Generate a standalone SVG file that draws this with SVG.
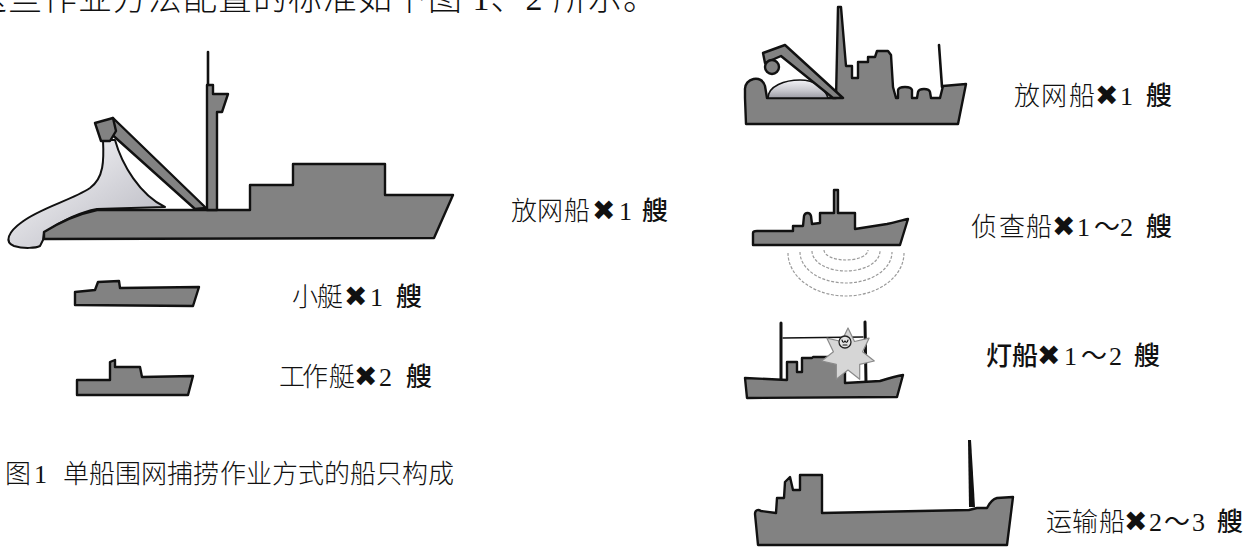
<svg xmlns="http://www.w3.org/2000/svg" width="1260" height="547" viewBox="0 0 1260 547">
  <defs>
    <linearGradient id="netFill" x1="0" y1="0" x2="1" y2="1">
      <stop offset="0" stop-color="#ffffff"/>
      <stop offset="0.55" stop-color="#d4d4da"/>
      <stop offset="1" stop-color="#b4b4bc"/>
    </linearGradient>
    <linearGradient id="domeFill" x1="0" y1="0" x2="0" y2="1">
      <stop offset="0" stop-color="#f2f2f6"/>
      <stop offset="0.6" stop-color="#c6c6cc"/>
      <stop offset="1" stop-color="#9c9ca4"/>
    </linearGradient>
    <style>
      .hull { fill: #828282; stroke: #111; stroke-width: 2.4; stroke-linejoin: round; }
      .thin { fill: none; stroke: #111; stroke-linecap: round; }
      .net { fill: url(#netFill); stroke: #111; stroke-width: 2; stroke-linejoin: round; }
      .sonar { fill: none; stroke: #9a9a9a; stroke-width: 1.2; stroke-dasharray: 3 1.6; }
      .lbl { font-family: "Liberation Serif", "Noto Sans CJK SC", "DejaVu Sans", serif; font-size: 26px; fill: #111; }
      .song { font-weight: 300; }
      .mk { font-family: "DejaVu Sans", sans-serif; font-size: 28px; }
      .gothic { font-family: "Noto Sans CJK SC", sans-serif; font-weight: 500; }
    </style>
  </defs>
  <rect width="1260" height="547" fill="#ffffff"/>

  <!-- running text above the figures, clipped by the top edge -->
  <text class="lbl song" x="-27" y="10" letter-spacing="1" style="font-size:34px">这些作业方法配置的标准如下图 1、2 所示。</text>

  <!-- Fig. 1: single-vessel purse seine fleet -->
  <g id="seiner-large">
    <path class="net" d="M 103,140 C 104,160 104,178 90,188 C 72,200 40,208 22,222 C 8,232 4,242 14,246 C 24,249 36,248 40,246 L 43,240 L 44,233 C 60,222 80,212 97,209 L 165,207 C 140,195 122,165 115,140 Z"/>
    <path class="hull" d="M 44,239 L 44,232 C 60,222 78,214 97,210 L 250,210 L 250,185 L 293,185 L 293,164 L 385,164 L 385,195 L 453,195 L 434,238 Z"/>
    <path class="hull" d="M 113,118 L 206,208 L 195,209 L 108,131 Z"/>
    <path class="hull" d="M 95,123 L 113,118 L 116,131 L 110,141 L 101,141 Z"/>
    <path class="thin" stroke-width="2.6" d="M 208,52 L 208,90"/>
    <path class="hull" d="M 207,85 L 213,85 L 213,94 L 228,94 L 222,112 L 217,112 L 217,210 L 207,210 Z"/>
  </g>
  <text class="lbl" y="220"><tspan class="song" x="511 537 564">放网船</tspan><tspan class="mk" x="592">✖</tspan><tspan x="619 632">1 </tspan><tspan class="gothic" x="642">艘</tspan></text>

  <g id="skiff">
    <path class="hull" d="M 75,305 L 75,292 L 95,290 L 98,282 L 119,281 L 120,288 L 199,287 L 193,306 Z"/>
  </g>
  <text class="lbl" y="306"><tspan class="song" x="292 317">小艇</tspan><tspan class="mk" x="344">✖</tspan><tspan x="370 383">1 </tspan><tspan class="gothic" x="396">艘</tspan></text>

  <g id="work-boat">
    <path class="hull" d="M 77,395 L 77,380 L 110,380 L 110,362 L 115,360 L 115,367 L 140,367 L 142,377 L 193,376 L 188,395 Z"/>
  </g>
  <text class="lbl" y="386"><tspan class="song" x="279 302 329">工作艇</tspan><tspan class="mk" x="354">✖</tspan><tspan x="379 392">2 </tspan><tspan class="gothic" x="406">艘</tspan></text>

  <text class="lbl song" y="483" x="5 28 34 46 63 89 115 141 167 193 220 246 272 298 324 350 376 402 428">图 1　单船围网捕捞作业方式的船只构成</text>

  <!-- Fig. 2: purse seine fleet with support vessels -->
  <g id="seiner-small">
    <path class="hull" d="M 746,124 L 745,98 L 745,90 C 744,78 762,74 765,86 L 767,98 L 836,98 L 838,7 L 841,7 L 846,66 L 852,66 L 852,78 L 858,78 L 858,62 L 868,62 L 868,57 L 875,57 L 877,51 L 888,51 L 891,55 L 893,87 L 896,98 L 898,98 L 898,90 C 899,86 911,86 912,90 L 912,98 L 917,98 L 918,92 C 919,88 929,88 930,92 L 931,98 L 940,98 L 943,86 L 966,84 L 958,124 Z"/>
    <path d="M 768,98 C 768,86 785,80 800,80 C 815,80 825,88 828,98 Z" fill="url(#domeFill)" stroke="#111" stroke-width="1.6"/>
    <path class="hull" d="M 763,53 L 785,45 L 843,98 L 833,98 L 781,56 L 765,63 Z"/>
    <circle class="hull" cx="772" cy="67" r="7"/>
    <path class="thin" stroke-width="2.6" d="M 939,45 L 942,87"/>
  </g>
  <text class="lbl" y="105"><tspan class="song" x="1014 1041 1069">放网船</tspan><tspan class="mk" x="1095">✖</tspan><tspan x="1120 1133">1 </tspan><tspan class="gothic" x="1146">艘</tspan></text>

  <g id="scout-vessel">
    <path class="sonar" d="M 824,250 A 22 10 0 0 0 868,250"/>
    <path class="sonar" d="M 812,251 A 34 20 0 0 0 880,251"/>
    <path class="sonar" d="M 800,252 A 46 31 0 0 0 892,252"/>
    <path class="sonar" d="M 788,253 A 58 43 0 0 0 904,253"/>
    <path class="hull" d="M 753,245 L 753,233 C 753,231 755,231 757,231 L 793,231 L 793,226 L 803,226 L 804,216 C 805,212 810,212 811,216 L 812,224 L 820,223 L 820,213 L 834,213 L 834,190 L 838,190 L 838,213 L 855,213 L 855,229 L 887,224 C 896,222 903,220 908,219 L 900,245 Z"/>
  </g>
  <text class="lbl" y="236"><tspan class="song" x="971 999 1026">侦查船</tspan><tspan class="mk" x="1052">✖</tspan><tspan x="1077 1094 1120 1133">1～2 </tspan><tspan class="gothic" x="1146">艘</tspan></text>

  <g id="light-vessel">
    <path class="thin" stroke-width="3" d="M 781,323 L 781,380"/>
    <path class="thin" stroke-width="3" d="M 865,322 L 866,383"/>
    <path class="thin" stroke-width="1.3" d="M 783,338 L 863,337"/>
    <path class="hull" d="M 747,398 L 745,378 L 787,380 L 787,362 L 797,362 L 797,372 L 802,372 L 802,358 L 812,358 L 813,357 L 845,357 L 845,383 L 880,381 C 890,378 897,376 903,375 L 897,397 Z"/>
    <polygon transform="translate(0,-2)" points="848,330 854.5,343.5 869.1,340.2 862.6,353.7 874.3,363 859.7,366.4 859.7,381.3 848,372 836.3,381.3 836.3,366.4 821.7,363 833.4,353.7 826.9,340.2 841.5,343.5" fill="#d6d6d6" stroke="#8a8a8a" stroke-width="1.2" stroke-linejoin="round"/>
    <circle cx="845" cy="342" r="6" fill="#e4e4e4" stroke="#222" stroke-width="1.3"/>
    <path class="thin" stroke-width="1.1" d="M 842,340 q 1,4 3,1 q 2,3 3,-1 M 843,345 L 847,345"/>
  </g>
  <text class="lbl" y="365"><tspan class="gothic" x="986 1012">灯船</tspan><tspan class="mk" x="1037">✖</tspan><tspan x="1064 1081 1109 1122">1～2 </tspan><tspan class="gothic" x="1134">艘</tspan></text>

  <g id="carrier">
    <path class="hull" d="M 758,545 L 755,514 C 755,510 758,509 761,511 L 776,513 L 777,498 L 784,498 L 785,482 L 790,477 L 793,490 L 800,490 L 800,475 L 822,475 L 822,513 L 969,510 L 977,508 L 987,508 C 990,502 993,499 997,498 L 1013,497 L 1007,545 Z"/>
    <path d="M 968,440 L 971,440 L 975,507 L 969,507 Z" fill="#111"/>
  </g>
  <text class="lbl" y="531"><tspan class="song" x="1046 1072 1099">运输船</tspan><tspan class="mk" x="1124">✖</tspan><tspan x="1149 1164 1192 1205">2～3 </tspan><tspan class="gothic" x="1217">艘</tspan></text>
</svg>
